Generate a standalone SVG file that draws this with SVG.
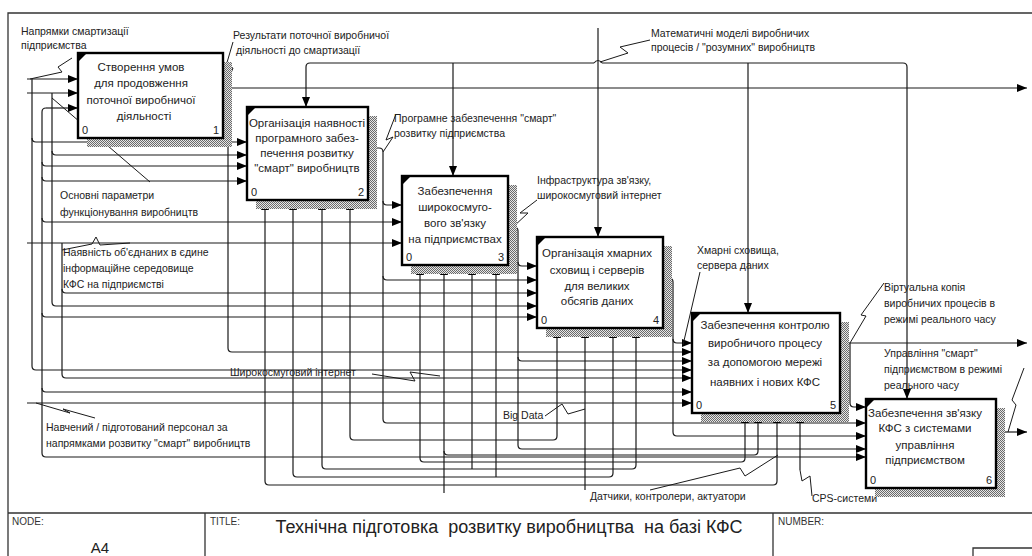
<svg xmlns="http://www.w3.org/2000/svg" width="1032" height="556" viewBox="0 0 1032 556">
<style>
.c{fill:none;stroke:#1a1a1a;stroke-width:1.2}
.s{fill:none;stroke:#1a1a1a;stroke-width:1}
.f{fill:none;stroke:#333;stroke-width:1.3}
.box{fill:#fff;stroke:#000;stroke-width:2.4}
.sh{fill:url(#hatch)}
.bt{font-family:"Liberation Sans",Arial,sans-serif;font-size:11.5px;fill:#222;text-anchor:middle}
.lb{font-family:"Liberation Sans",Arial,sans-serif;font-size:10.5px;fill:#222}
.nm{font-family:"Liberation Sans",Arial,sans-serif;font-size:11px;fill:#222}
.ft{font-family:"Liberation Sans",Arial,sans-serif;font-size:10px;fill:#333}
</style>
<defs>
<pattern id="hatch" width="2" height="2" patternUnits="userSpaceOnUse"><rect width="2" height="2" fill="#e6e6e6"/><rect width="1" height="1" fill="#6a6a6a"/><rect x="1" y="1" width="1" height="1" fill="#6a6a6a"/></pattern>
<marker id="a" markerWidth="10" markerHeight="8" refX="10" refY="4" orient="auto" markerUnits="userSpaceOnUse"><path d="M0,0 L10,4 L0,8 z" fill="#000"/></marker>
</defs>
<rect width="1032" height="556" fill="#fff"/>
<g id="frame">
<path class="f" d="M8,556 V13 H1032 M8,513 H1032 M205,513 V556 M773,513 V556 M973,556 V548 H1032"/>
<text class="ft" x="12" y="525">NODE:</text>
<text x="100" y="553" style="font-family:'Liberation Sans',Arial,sans-serif;font-size:15px;fill:#222" text-anchor="middle">A4</text>
<text class="ft" x="210" y="525">TITLE:</text>
<text x="509" y="533" style="font-family:'Liberation Sans',Arial,sans-serif;font-size:18px;fill:#222" text-anchor="middle" xml:space="preserve">Технічна підготовка  розвитку виробництва  на базі КФС</text>
<text class="ft" x="778" y="525">NUMBER:</text>
</g>
<g id="connectors">
<path class="c" d="M223,88 H1027" marker-end="url(#a)"/>
<path class="c" d="M228,88 V348 Q228,352 232,352 H692" marker-end="url(#a)"/>
<path class="c" d="M598,28 V237" marker-end="url(#a)"/>
<path class="c" d="M594,63 H310 Q306,63 306,67 V107" marker-end="url(#a)"/>
<path class="c" d="M453,63 V176" marker-end="url(#a)"/>
<path class="c" d="M602,63 H903 Q907,63 907,67 V399" marker-end="url(#a)"/>
<path class="c" d="M748,63 V313" marker-end="url(#a)"/>
<path class="c" d="M594,63 Q598,58 602,63"/>
<path class="c" d="M368,148 H379 Q383,148 383,152 V419 Q383,423 387,423 H866" marker-end="url(#a)"/>
<path class="c" d="M383,201 Q383,205 387,205 H402" marker-end="url(#a)"/>
<path class="c" d="M383,276 Q383,280 387,280 H537" marker-end="url(#a)"/>
<path class="c" d="M508,227 H514 Q518,227 518,231 V445 Q518,449 522,449 H866" marker-end="url(#a)"/>
<path class="c" d="M518,262 Q518,266 522,266 H537" marker-end="url(#a)"/>
<path class="c" d="M518,357 Q518,361 522,361 H692" marker-end="url(#a)"/>
<path class="c" d="M663,278 H669 Q673,278 673,282 V432 Q673,436 677,436 H866" marker-end="url(#a)"/>
<path class="c" d="M673,339 Q673,343 677,343 H692" marker-end="url(#a)"/>
<path class="c" d="M840,343 H1027" marker-end="url(#a)"/>
<path class="c" d="M850,343 V403 Q850,407 854,407 H866" marker-end="url(#a)"/>
<path class="c" d="M996,432 H1027" marker-end="url(#a)"/>
<path class="c" d="M27,79 H78" marker-end="url(#a)"/>
<path class="c" d="M27,93 H78" marker-end="url(#a)"/>
<path class="c" d="M32,79 V366 Q32,370 36,370 H692" marker-end="url(#a)"/>
<path class="c" d="M32,138 Q32,142 36,142 H247" marker-end="url(#a)"/>
<path class="c" d="M46,108 H78" marker-end="url(#a)"/>
<path class="c" d="M46,108 Q42,108 42,112 V453 Q42,457 46,457 H866" marker-end="url(#a)"/>
<path class="c" d="M42,162 Q42,166 46,166 H247" marker-end="url(#a)"/>
<path class="c" d="M42,177 Q42,181 46,181 H247" marker-end="url(#a)"/>
<path class="c" d="M42,218 Q42,222 46,222 H402" marker-end="url(#a)"/>
<path class="c" d="M42,313 Q42,317 46,317 H537" marker-end="url(#a)"/>
<path class="c" d="M42,388 Q42,392 46,392 H692" marker-end="url(#a)"/>
<path class="c" d="M52,93 V302 Q52,306 56,306 H537" marker-end="url(#a)"/>
<path class="c" d="M52,151 Q52,155 56,155 H247" marker-end="url(#a)"/>
<path class="c" d="M27,243 H402" marker-end="url(#a)"/>
<path class="c" d="M62,243 V374 Q62,378 66,378 H692" marker-end="url(#a)"/>
<path class="c" d="M62,289 Q62,293 66,293 H537" marker-end="url(#a)"/>
<path class="c" d="M27,403 H692" marker-end="url(#a)"/>
<path class="c" d="M773,485 H269 Q265,485 265,481 V200" marker-end="url(#a)"/>
<path class="c" d="M773,485 Q777,485 777,481 V413" marker-end="url(#a)"/>
<path class="c" d="M609,477 H297 Q293,477 293,473 V200" marker-end="url(#a)"/>
<path class="c" d="M609,477 Q613,477 613,473 V328" marker-end="url(#a)"/>
<path class="c" d="M632,469 H326 Q322,469 322,465 V200" marker-end="url(#a)"/>
<path class="c" d="M632,469 Q636,469 636,465 V328" marker-end="url(#a)"/>
<path class="c" d="M553,440 H354 Q350,440 350,436 V200" marker-end="url(#a)"/>
<path class="c" d="M553,440 Q557,440 557,436 V328" marker-end="url(#a)"/>
<path class="c" d="M741,462 H424 Q420,462 420,458 V265" marker-end="url(#a)"/>
<path class="c" d="M741,462 Q745,462 745,458 V413" marker-end="url(#a)"/>
<path class="c" d="M444,493 V265" marker-end="url(#a)"/>
<path class="c" d="M754,455 H448 Q444,455 444,451"/>
<path class="c" d="M754,455 Q758,455 758,451 V413" marker-end="url(#a)"/>
<path class="c" d="M472,469 V265" marker-end="url(#a)"/>
<path class="c" d="M496,477 V265" marker-end="url(#a)"/>
<path class="c" d="M585,490 V328" marker-end="url(#a)"/>
<path class="c" d="M800,470 V413" marker-end="url(#a)"/>
<path class="s" d="M30,79 L62,72 L58,67 L72,58"/>
<path class="s" d="M225,88 L233,68 L226,66 L233,42"/>
<path class="s" d="M383,152 L393,137 L386,140 L396,114"/>
<path class="s" d="M600,62 L628,53 L620,47 L650,40"/>
<path class="s" d="M512,228 L528,213 L520,213 L537,200"/>
<path class="s" d="M683,345 L700,272"/>
<path class="s" d="M850,343 L866,316 L861,315 L884,283"/>
<path class="s" d="M1008,432 L1016,405 L1012,400 L1024,368"/>
<path class="s" d="M52,98 L150,182"/>
<path class="s" d="M62,250 L92,244 L96,237 L100,245 L130,243"/>
<path class="s" d="M372,374 L415,381 L410,372 L440,376"/>
<path class="s" d="M36,403 L70,413 L63,409 L95,418"/>
<path class="s" d="M545,416 L562,404 L568,414 L585,409"/>
<path class="s" d="M650,490 L740,468 L745,476 L778,455"/>
<path class="s" d="M812,496 L810,476 L802,481 L800,470"/>
</g>
<g id="labels">
<text class="lb" x="21" y="35">Напрямки смартизації</text>
<text class="lb" x="21" y="49">підприємства</text>
<text class="lb" x="233" y="39">Результати поточної виробничої</text>
<text class="lb" x="236" y="54">діяльності до смартизації</text>
<text class="lb" x="394" y="122">Програмне забезпечення "смарт"</text>
<text class="lb" x="394" y="137">розвитку підприємства</text>
<text class="lb" x="651" y="37">Математичні моделі виробничих</text>
<text class="lb" x="651" y="51">процесів / "розумних" виробництв</text>
<text class="lb" x="537" y="184">Інфраструктура зв'язку,</text>
<text class="lb" x="537" y="199">широкосмуговий інтернет</text>
<text class="lb" x="697" y="254">Хмарні сховища,</text>
<text class="lb" x="697" y="269">сервера даних</text>
<text class="lb" x="884" y="291">Віртуальна копія</text>
<text class="lb" x="884" y="307">виробничих процесів в</text>
<text class="lb" x="884" y="323">режимі реального часу</text>
<text class="lb" x="884" y="357">Управління "смарт"</text>
<text class="lb" x="884" y="373">підприємством в режимі</text>
<text class="lb" x="884" y="389">реального часу</text>
<text class="lb" x="60" y="199">Основні параметри</text>
<text class="lb" x="60" y="216">функціонування виробництв</text>
<text class="lb" x="63" y="256">Наявність об'єднаних в єдине</text>
<text class="lb" x="63" y="272">інформаційне середовище</text>
<text class="lb" x="63" y="288">КФС на підприємстві</text>
<text class="lb" x="230" y="376">Широкосмуговий інтернет</text>
<text class="lb" x="46" y="431">Навчений / підготований персонал за</text>
<text class="lb" x="46" y="447">напрямками розвитку "смарт" виробництв</text>
<text class="lb" x="503" y="419">Big Data</text>
<text class="lb" x="590" y="500">Датчики, контролери, актуатори</text>
<text class="lb" x="812" y="502">CPS-системи</text>
</g>
<g id="n1">
<rect class="sh" x="87" y="62" width="145" height="85"/>
<rect class="box" x="78" y="53" width="145" height="85"/>
<path d="M79,61 L79,54 L86,54 Z" fill="#000"/>
<text class="bt" x="141" y="71">Створення умов</text>
<text class="bt" x="141" y="87">для продовження</text>
<text class="bt" x="141" y="104">поточної виробничої</text>
<text class="bt" x="144" y="120">діяльності</text>
<text class="nm" x="82" y="134">0</text>
<text class="nm" x="213" y="134">1</text>
</g>
<g id="n2">
<rect class="sh" x="256" y="116" width="121" height="93"/>
<rect class="box" x="247" y="107" width="121" height="93"/>
<path d="M248,115 L248,108 L255,108 Z" fill="#000"/>
<text class="bt" x="307" y="127">Організація наявності</text>
<text class="bt" x="307" y="142">програмного забез-</text>
<text class="bt" x="307" y="157">печення розвитку</text>
<text class="bt" x="307" y="172">"смарт" виробництв</text>
<text class="nm" x="251" y="196">0</text>
<text class="nm" x="358" y="196">2</text>
</g>
<g id="n3">
<rect class="sh" x="411" y="185" width="106" height="89"/>
<rect class="box" x="402" y="176" width="106" height="89"/>
<path d="M403,184 L403,177 L410,177 Z" fill="#000"/>
<text class="bt" x="455" y="195">Забезпечення</text>
<text class="bt" x="455" y="211">широкосмуго-</text>
<text class="bt" x="455" y="227">вого зв'язку</text>
<text class="bt" x="455" y="243">на підприємствах</text>
<text class="nm" x="406" y="261">0</text>
<text class="nm" x="498" y="261">3</text>
</g>
<g id="n4">
<rect class="sh" x="546" y="246" width="126" height="91"/>
<rect class="box" x="537" y="237" width="126" height="91"/>
<path d="M538,245 L538,238 L545,238 Z" fill="#000"/>
<text class="bt" x="597" y="257">Організація хмарних</text>
<text class="bt" x="597" y="274">сховищ і серверів</text>
<text class="bt" x="597" y="290">для великих</text>
<text class="bt" x="597" y="305">обсягів даних</text>
<text class="nm" x="541" y="324">0</text>
<text class="nm" x="653" y="324">4</text>
</g>
<g id="n5">
<rect class="sh" x="701" y="322" width="148" height="100"/>
<rect class="box" x="692" y="313" width="148" height="100"/>
<path d="M693,321 L693,314 L700,314 Z" fill="#000"/>
<text class="bt" x="765" y="329">Забезпечення контролю</text>
<text class="bt" x="765" y="347">виробничого процесу</text>
<text class="bt" x="765" y="366">за допомогою мережі</text>
<text class="bt" x="765" y="386">наявних і нових КФС</text>
<text class="nm" x="696" y="409">0</text>
<text class="nm" x="830" y="409">5</text>
</g>
<g id="n6">
<rect class="sh" x="875" y="408" width="130" height="89"/>
<rect class="box" x="866" y="399" width="130" height="89"/>
<path d="M867,407 L867,400 L874,400 Z" fill="#000"/>
<text class="bt" x="925" y="417">Забезпечення зв'язку</text>
<text class="bt" x="925" y="432">КФС з системами</text>
<text class="bt" x="925" y="449">управління</text>
<text class="bt" x="925" y="464">підприємством</text>
<text class="nm" x="870" y="484">0</text>
<text class="nm" x="986" y="484">6</text>
</g>
</svg>
